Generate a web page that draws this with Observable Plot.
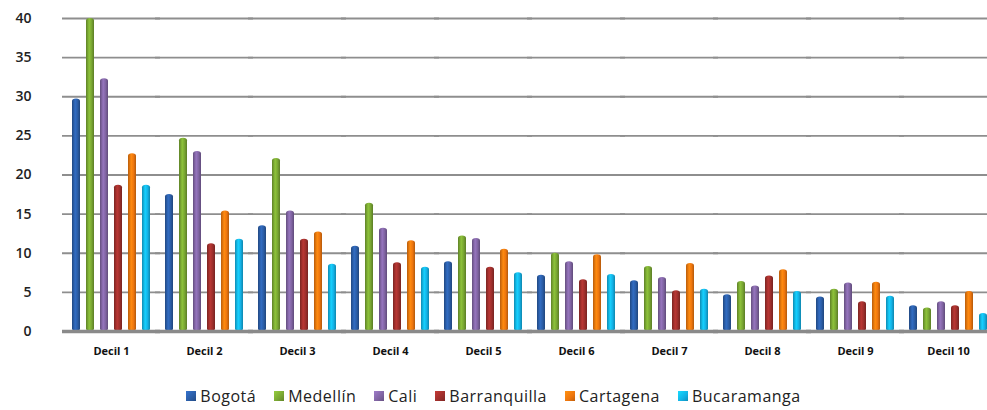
<!DOCTYPE html>
<html>
<head>
<meta charset="utf-8">
<script src="https://cdn.jsdelivr.net/npm/d3@7"></script>
<script src="https://cdn.jsdelivr.net/npm/@observablehq/plot@0.6"></script>
<style>
  body { margin: 0; background: #fff; font-family: "Open Sans", sans-serif; }
  #legend { display: flex; justify-content: center; align-items: center; height: 40px; padding-top: 12px; box-sizing: border-box; font-size: 16px; color: #222; padding-left: 0px; }
  .item { display: flex; align-items: center; margin: 0 9px; letter-spacing: 0.5px; }
  .sw { width: 10px; height: 10px; margin-right: 4px; display: inline-block; }
</style>
</head>
<body>
<div id="chart"></div>
<div id="legend"></div>
<script>
const deciles = ["Decil 1","Decil 2","Decil 3","Decil 4","Decil 5","Decil 6","Decil 7","Decil 8","Decil 9","Decil 10"];
const cities = ["Bogotá","Medellín","Cali","Barranquilla","Cartagena","Bucaramanga"];
const bogota       = [29.7, 17.5, 13.5, 10.9, 8.9, 7.2, 6.5, 4.7, 4.4, 3.3];
const medellin     = [40.0, 24.7, 22.1, 16.4, 12.2, 10.0, 8.3, 6.4, 5.4, 3.0];
const cali         = [32.3, 23.0, 15.4, 13.2, 11.9, 8.9, 6.9, 5.8, 6.2, 3.8];
const barranquilla = [18.7, 11.2, 11.8, 8.8, 8.2, 6.6, 5.2, 7.1, 3.8, 3.3];
const cartagena    = [22.7, 15.4, 12.7, 11.6, 10.5, 9.8, 8.7, 7.9, 6.3, 5.1];
const bucaramanga  = [18.7, 11.8, 8.6, 8.2, 7.5, 7.3, 5.4, 5.1, 4.5, 2.3];
const yTicks = [0, 5, 10, 15, 20, 25, 30, 35, 40];
const colors = ["#2b5da6", "#79a632", "#8064a2", "#9e2f2c", "#ee760e", "#13b2e6"];

const series = [bogota, medellin, cali, barranquilla, cartagena, bucaramanga];
const data = cities.flatMap((c, i) => deciles.map((d, j) => ({city: c, decil: d, value: series[i][j]})));
const gradIds = cities.map((c, i) => `url(#g${i})`);

const chart = Plot.plot({
  width: 987,
  height: 370,
  marginLeft: 60,
  marginRight: -12,
  marginTop: 18,
  marginBottom: 39,
  style: {fontFamily: "'Open Sans', sans-serif", color: "#222", overflow: "hidden"},
  fx: {domain: deciles, paddingInner: 0.165, paddingOuter: 0.107, label: null, axis: null},
  x: {domain: cities, paddingInner: 0.43, paddingOuter: 0, axis: null},
  y: {domain: [0, 40], axis: null},
  color: {domain: cities, range: gradIds},
  marks: [
    Plot.ruleY(yTicks.filter(d => d > 0), {y: d => d, stroke: "#8e8e8e", strokeWidth: 1.8, insetLeft: -10, insetRight: -10}),
    Plot.barY(data, {fx: "decil", x: "city", y: "value", fill: "city", rx: 4, ry: 2.5}),
    Plot.ruleY([0], {stroke: "#8a8a8a", strokeWidth: 3.5, insetLeft: -10, insetRight: -10}),
    Plot.text(yTicks, {y: d => d, text: d => String(d), frameAnchor: "left", dx: -41, textAnchor: "end", fontSize: 14, fontWeight: 600, fill: "#222", facetAnchor: "left"}),
    Plot.axisFx({anchor: "bottom", tickSize: 0, tickPadding: 16, fontSize: 11, fontWeight: "bold", label: null, fill: "#111"})
  ]
});

const svg = d3.select(chart);
const defs = svg.insert("defs", ":first-child");
colors.forEach((col, i) => {
  const c = d3.color(col);
  const g = defs.append("linearGradient").attr("id", `g${i}`).attr("x1", "0%").attr("x2", "100%").attr("y1", "0%").attr("y2", "0%");
  g.append("stop").attr("offset", "0%").attr("stop-color", c.darker(0.7).formatHex());
  g.append("stop").attr("offset", "40%").attr("stop-color", c.brighter(0.45).formatHex());
  g.append("stop").attr("offset", "70%").attr("stop-color", col);
  g.append("stop").attr("offset", "100%").attr("stop-color", c.darker(0.8).formatHex());
});
document.getElementById("chart").appendChild(chart);

const legend = d3.select("#legend");
cities.forEach((c, i) => {
  const it = legend.append("div").attr("class", "item");
  it.append("span").attr("class", "sw").style("background", `linear-gradient(135deg, ${d3.color(colors[i]).brighter(0.6)} 0%, ${colors[i]} 60%, ${d3.color(colors[i]).darker(0.6)} 100%)`);
  it.append("span").text(c);
});
</script>
</body>
</html>
